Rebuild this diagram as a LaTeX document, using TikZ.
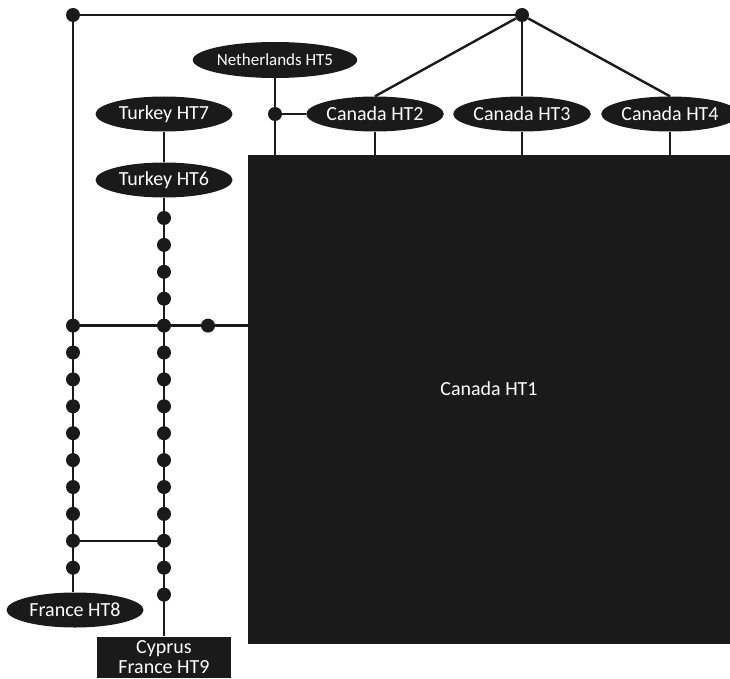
\documentclass[tikz,border=0pt]{standalone}
\usepackage{fontspec}
\setmainfont{Carlito}
\usepackage{tikz}
\usetikzlibrary{shapes.geometric,calc}
\definecolor{htblack}{HTML}{1A1A1A}

\begin{document}
\begin{tikzpicture}[x=1pt,y=-1pt,font=\fontsize{20}{20}\selectfont,
  hap/.style={ellipse,fill=htblack,text=white,minimum width=137pt,minimum height=35pt,inner sep=0pt},
  box/.style={rectangle,fill=htblack,text=white,inner sep=0pt,align=center},
  mv/.style={circle,fill=htblack,minimum size=14pt,inner sep=0pt},
  ln/.style={line width=2.4pt,draw=htblack}]
  \useasboundingbox (0,0) rectangle (730,679);
  % haplotypes
  \node[box,minimum width=482pt,minimum height=489pt,
    label={[text=white,yshift=11pt]center:Canada HT1}] (h1) at (489,399.5) {};
  \node[hap,minimum width=136pt] (h2) at (375,114) {Canada HT2};
  \node[hap] (h3) at (522,114) {Canada HT3};
  \node[hap] (h4) at (670,114) {Canada HT4};
  \node[hap,minimum width=136pt,minimum height=36pt,font=\fontsize{17}{17}\selectfont] (h5) at (275,60) {Netherlands HT5};
  \node[hap] (h7) at (164,114) {Turkey HT7};
  \node[hap] (h6) at (164,180) {Turkey HT6};
  \node[hap] (h8) at (75,610) {France HT8};
  \node[box,minimum width=134pt,minimum height=41pt] (h9) at (164,657) {Cyprus\\France HT9};
  % median vectors
  \node[mv] (tl) at (73,15) {};
  \node[mv] (tc) at (522,15) {};
  \node[mv] (j5) at (275,114) {};
  \foreach \i in {0,...,14}
    \node[mv] (a\i) at (164,{218+26.9*\i}) {};
  \foreach \i in {4,...,13}
    \node[mv] (b\i) at (73,{218+26.9*\i}) {};
  \node[mv] (m1) at (208,{218+26.9*4}) {};
  % links
  \draw[ln] (tl) -- (tc);
  \draw[ln] (tc) -- (h2.north);
  \draw[ln] (tc) -- (h3);
  \draw[ln] (tc) -- (h4.north);
  \foreach \h in {h2,h3,h4}
    \draw[ln] (\h) -- (\h |- h1.north);
  \draw[ln] (h5) -- (j5) -- (j5 |- h1.north);
  \draw[ln] (j5) -- (h2);
  \draw[ln] (h7) -- (h6);
  \draw[ln] (h6) -- (h9);
  \draw[ln] (tl) -- (tl |- h8.north);
  \draw[ln] (b4) -- (b4 -| h1.west);
  \draw[ln] (b12) -- (a12);
\end{tikzpicture}
\end{document}
